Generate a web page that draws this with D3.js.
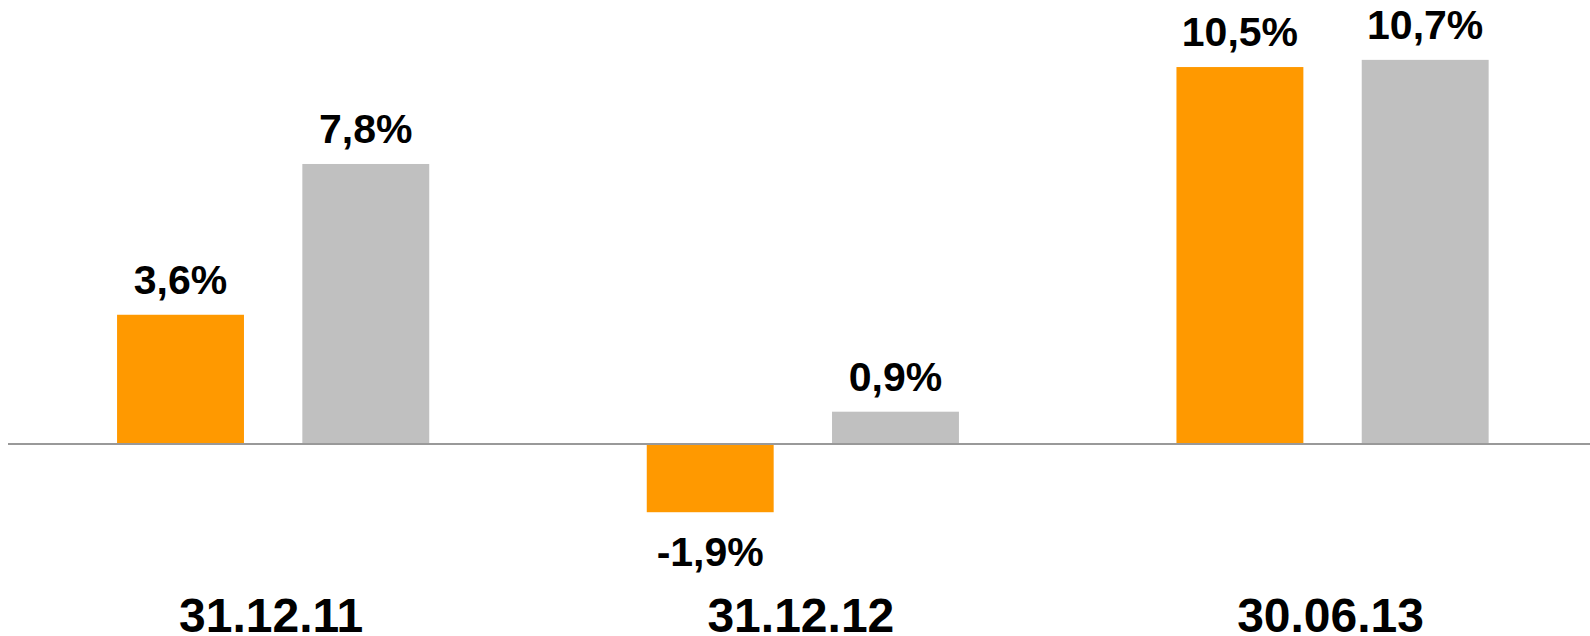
<!DOCTYPE html>
<html>
<head>
<meta charset="utf-8">
<script src="https://cdn.jsdelivr.net/npm/d3@7"></script>
<style>
  body { margin: 0; background: #fff; }
  svg text { font-family: "Liberation Sans", Arial, sans-serif; font-weight: bold; fill: #000; }
</style>
</head>
<body>
<div id="chart"></div>
<script>
// data
var categories = ["31.12.11", "31.12.12", "30.06.13"];
var seriesNames = ["a", "b"];
var seriesA = [3.6, -1.9, 10.5];
var seriesB = [7.8, 0.9, 10.7];
var colors = ["#FF9900", "#C0C0C0"];

function fmt(v) {
    // plain hyphen and decimal comma like the source
    return d3.format(".1f")(v).replace("\u2212", "-").replace(".", ",") + "%";
}

function main(){
    var canvasWidth = 1590;
    var canvasHeight = 636;

    var svg = d3.select("#chart").append("svg")
        .attr("width", canvasWidth)
        .attr("height", canvasHeight);

    var rows = categories.map(function(c, i){
        return {cat: c, vals: [seriesA[i], seriesB[i]]};
    });

    var x0 = d3.scaleBand().domain(categories).range([8.3, 1597.4]).padding(0);
    var x1 = d3.scaleBand().domain(seriesNames).range([0, x0.bandwidth()])
        .paddingInner(0.315).paddingOuter(0.587);
    var yScale = d3.scaleLinear().domain([-5, 12]).range([623.5, 13.2]);

    var groups = svg.selectAll(".group")
        .data(rows)
        .enter().append("g")
        .attr("class", "group")
        .attr("transform", function(d){ return "translate(" + x0(d.cat) + ",0)"; });

    var bars = groups.selectAll("rect")
        .data(function(d){ return d.vals.map(function(v, j){ return {key: seriesNames[j], v: v, j: j}; }); })
        .enter();

    bars.append("rect")
        .attr("x", function(d){ return x1(d.key); })
        .attr("y", function(d){ return yScale(Math.max(0, d.v)); })
        .attr("width", x1.bandwidth())
        .attr("height", function(d){ return Math.abs(yScale(d.v) - yScale(0)); })
        .attr("fill", function(d){ return colors[d.j]; });

    // value labels
    bars.append("text")
        .attr("x", function(d){ return x1(d.key) + x1.bandwidth() / 2; })
        .attr("y", function(d){ return d.v >= 0 ? yScale(d.v) - 21 : yScale(d.v) + 54; })
        .attr("text-anchor", "middle")
        .attr("font-size", "41px")
        .text(function(d){ return fmt(d.v); });

    // zero line
    svg.append("line")
        .attr("x1", 8).attr("x2", canvasWidth)
        .attr("y1", yScale(0)).attr("y2", yScale(0))
        .attr("stroke", "#999999")
        .attr("stroke-width", 2);

    // category labels
    svg.append("g").selectAll("text")
        .data(categories)
        .enter().append("text")
        .attr("x", function(d){ return x0(d) + x0.bandwidth() / 2 - 2; })
        .attr("y", 632)
        .attr("text-anchor", "middle")
        .attr("font-size", "48px")
        .text(function(d){ return d; });
}

main()
</script>
</body>
</html>
